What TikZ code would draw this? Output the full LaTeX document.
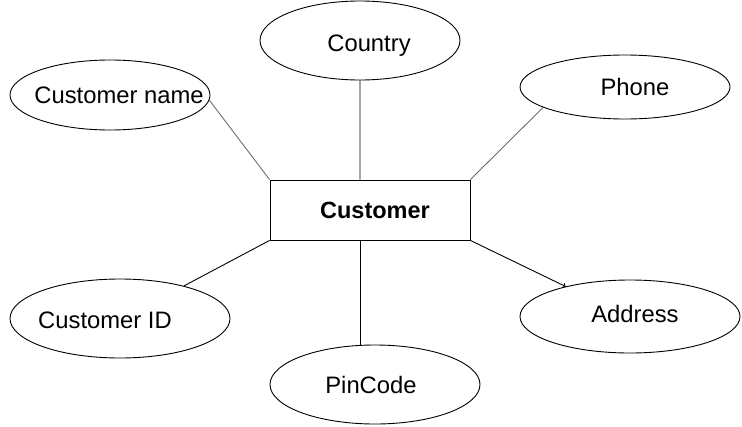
\documentclass[tikz,border=0pt]{standalone}
\usepackage{fontspec}
\setmainfont{Liberation Sans}
\usepackage{tikz}
\usetikzlibrary{shapes.geometric,calc}
\definecolor{linkgray}{RGB}{110,110,110}

\begin{document}
\begin{tikzpicture}[x=1pt,y=-1pt,
  attr/.style={draw,ellipse,line width=0.9pt,inner sep=0pt},
  attrtext/.style={font=\fontsize{23.8}{28}\selectfont,text depth=0pt},
  ent/.style={draw,rectangle,line width=0.9pt,minimum width=200pt,minimum height=60pt,
    font=\fontsize{23.5}{28}\selectfont\bfseries,text depth=0pt},
  link/.style={line width=0.9pt}]
  \useasboundingbox (0,0) rectangle (742,426);
  \node[ent] (cust) at (370,210) {\hspace{10pt}Customer};
  \node[attr,minimum width=200pt,minimum height=70pt,
    label={[attrtext,xshift=9pt]center:Customer name}] (cname) at (110,95) {};
  \node[attr,minimum width=200pt,minimum height=79pt,
    label={[attrtext,xshift=9pt,yshift=-3pt]center:Country}] (country) at (360,40.5) {};
  \node[attr,minimum width=210pt,minimum height=64pt,
    label={[attrtext,xshift=10pt]center:Phone}] (phone) at (625,87) {};
  \node[attr,minimum width=220pt,minimum height=79pt,
    label={[attrtext,xshift=-15pt,yshift=-1.5pt]center:Customer ID}] (cid) at (120,318.5) {};
  \node[attr,minimum width=210pt,minimum height=79pt,
    label={[attrtext,xshift=-4pt]center:PinCode}] (pin) at (375,384.5) {};
  \node[attr,minimum width=220pt,minimum height=73pt,
    label={[attrtext,xshift=5pt,yshift=2.5pt]center:Address}] (addr) at (630,316.5) {};
  \coordinate (ctop) at ($(cust.north west)!0.45!(cust.north east)$);
  \coordinate (cbot) at ($(cust.south west)!0.45!(cust.south east)$);
  \draw[link,linkgray] (cname.357) -- (cust.north west);
  \draw[link] (country.south) -- (ctop);
  \draw[link,linkgray] (phone.194) -- (cust.north east);
  \draw[link] (cust.south west) -- (cid.27);
  \draw[link] (cbot) -- (cbot |- pin.north);
  \draw[link,->] (cust.south east) -- (addr.155);
\end{tikzpicture}
\end{document}
